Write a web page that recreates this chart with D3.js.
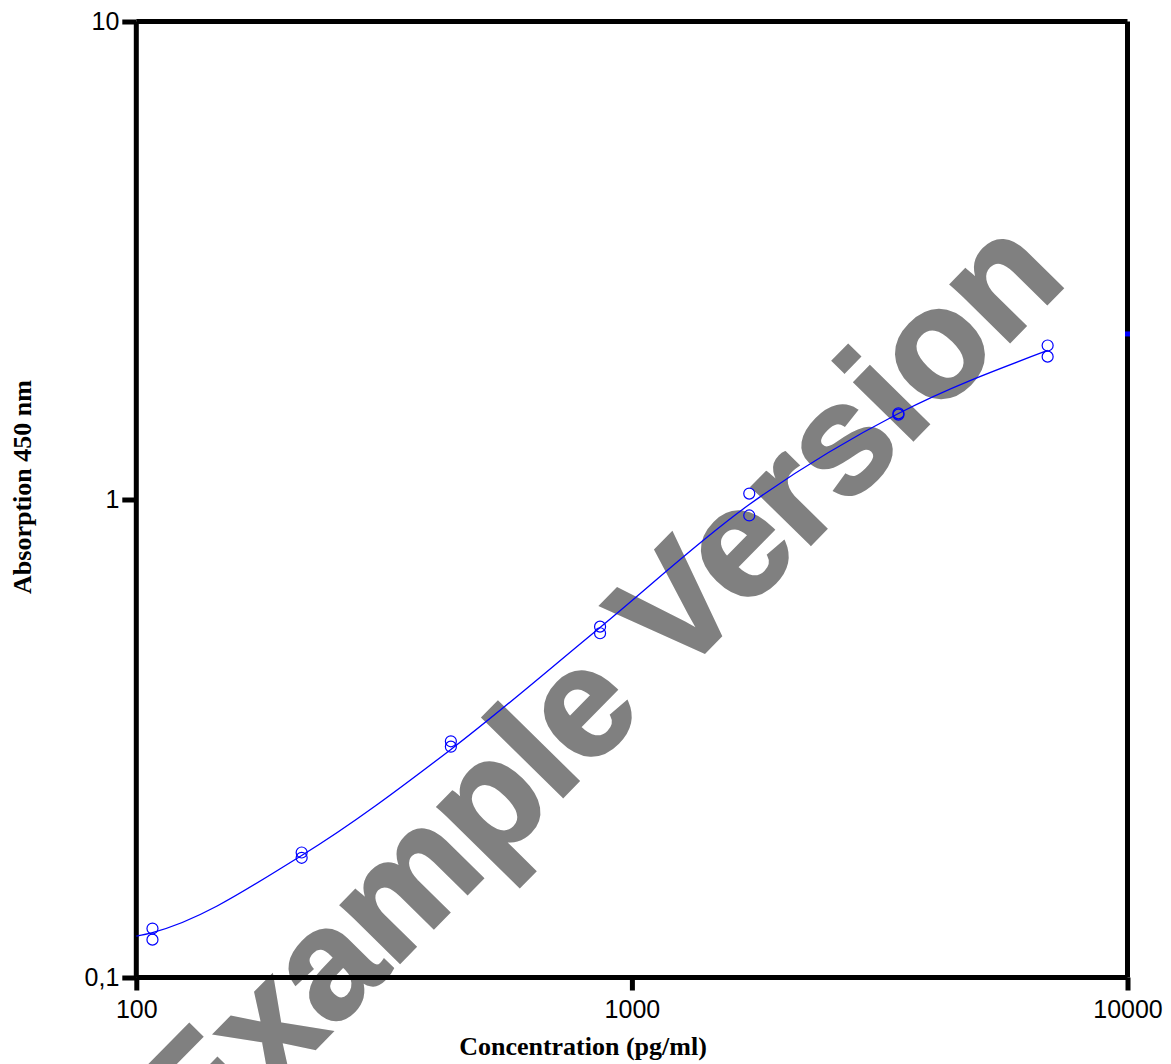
<!DOCTYPE html>
<html>
<head>
<meta charset="utf-8">
<script src="https://cdn.jsdelivr.net/npm/d3@7"></script>
<style>
  html, body { margin: 0; padding: 0; background: #fff; overflow: hidden; }
  svg { display: block; }
</style>
</head>
<body>
<svg id="chart" width="1171" height="1064"></svg>
<script>
// ---- data ----
const conc      = [107.8, 215.6, 431.25, 862.5, 1725, 3450, 6900];
const repA      = [0.1266, 0.1826, 0.312, 0.542, 1.029, 1.514, 2.10];
const repB      = [0.1200, 0.1780, 0.304, 0.525, 0.926, 1.505, 1.99];
const fitX      = [100, 107.8, 215.6, 431.25, 862.5, 1725, 3450, 6900];
const fitY      = [0.122, 0.1242, 0.180, 0.300, 0.540, 0.976, 1.513, 2.05];
const edgeMark  = [{x: 10000, y: 2.22}];
const xTicks    = [100, 1000, 10000];
const yTicks    = [0.1, 1, 10];
const yTickText = ["0,1", "1", "10"];

(function () {
// ---- layout ----
const svg = d3.select("#chart");
const pL = 136.3, pR = 1127.5, pT = 21.5, pB = 977.5;
const x = d3.scaleLog().domain([100, 10000]).range([pL, pR]);
const y = d3.scaleLog().domain([0.1, 10]).range([pB, pT]);
const blue = "#0000ff";

// watermark
svg.append("text")
  .attr("transform", "translate(634,724) rotate(-45.5)")
  .attr("text-anchor", "middle")
  .attr("font-family", "Liberation Sans, Arial, sans-serif")
  .attr("font-weight", "bold")
  .attr("font-size", 155)
  .attr("stroke", "#808080").attr("stroke-width", 3)
  .attr("fill", "#808080")
  .text("Example Version");

// frame (top and right)
svg.append("line").attr("x1", pL).attr("x2", pR).attr("y1", pT).attr("y2", pT)
  .attr("stroke", "#000").attr("stroke-width", 5);
svg.append("line").attr("x1", pR).attr("x2", pR).attr("y1", pT).attr("y2", pB)
  .attr("stroke", "#000").attr("stroke-width", 5);

// axes
const xAxis = d3.axisBottom(x).tickValues(xTicks).tickFormat(d3.format("d")).tickSize(13).tickPadding(10);
const yAxis = d3.axisLeft(y).tickValues(yTicks).tickFormat((d, i) => yTickText[i]).tickSize(14).tickPadding(3);

const gx = svg.append("g").attr("transform", `translate(0,${pB})`).call(xAxis);
const gy = svg.append("g").attr("transform", `translate(${pL},0)`).call(yAxis);
[gx, gy].forEach(g => {
  g.select(".domain").attr("stroke", "#000").attr("stroke-width", 5);
  g.selectAll(".tick line").attr("stroke", "#000").attr("stroke-width", 5);
  g.selectAll(".tick text").attr("fill", "#000")
    .attr("font-family", "Liberation Sans, Arial, sans-serif").attr("font-size", 25);
});
gx.select(".domain").attr("d", `M${pL},0H${pR}`);
gy.select(".domain").attr("d", `M0,${pB}V${pT}`);

// fitted curve
const line = d3.line().x(d => x(d[0])).y(d => y(d[1])).curve(d3.curveMonotoneX);
svg.append("path")
  .datum(fitX.map((v, i) => [v, fitY[i]]))
  .attr("d", line)
  .attr("fill", "none").attr("stroke", blue).attr("stroke-width", 1.3);

// data points
const pts = conc.flatMap((c, i) => [{x: c, y: repA[i]}, {x: c, y: repB[i]}]);
svg.append("g").selectAll("circle").data(pts).join("circle")
  .attr("cx", d => x(d.x)).attr("cy", d => y(d.y)).attr("r", 5.5)
  .attr("fill", "none").attr("stroke", blue).attr("stroke-width", 1.2);

// small mark at right edge
svg.append("g").selectAll("rect").data(edgeMark).join("rect")
  .attr("x", d => x(d.x) - 2.5).attr("y", d => y(d.y) - 2.5)
  .attr("width", 5).attr("height", 5).attr("fill", blue);

// axis titles
svg.append("text")
  .attr("x", 583).attr("y", 1055)
  .attr("text-anchor", "middle")
  .attr("font-family", "Liberation Serif, DejaVu Serif, serif")
  .attr("font-weight", "bold").attr("font-size", 26)
  .text("Concentration (pg/ml)");
svg.append("text")
  .attr("transform", `translate(31,487) rotate(-90)`)
  .attr("text-anchor", "middle")
  .attr("font-family", "Liberation Serif, DejaVu Serif, serif")
  .attr("font-weight", "bold").attr("font-size", 26)
  .text("Absorption 450 nm");
})();
</script>
</body>
</html>
